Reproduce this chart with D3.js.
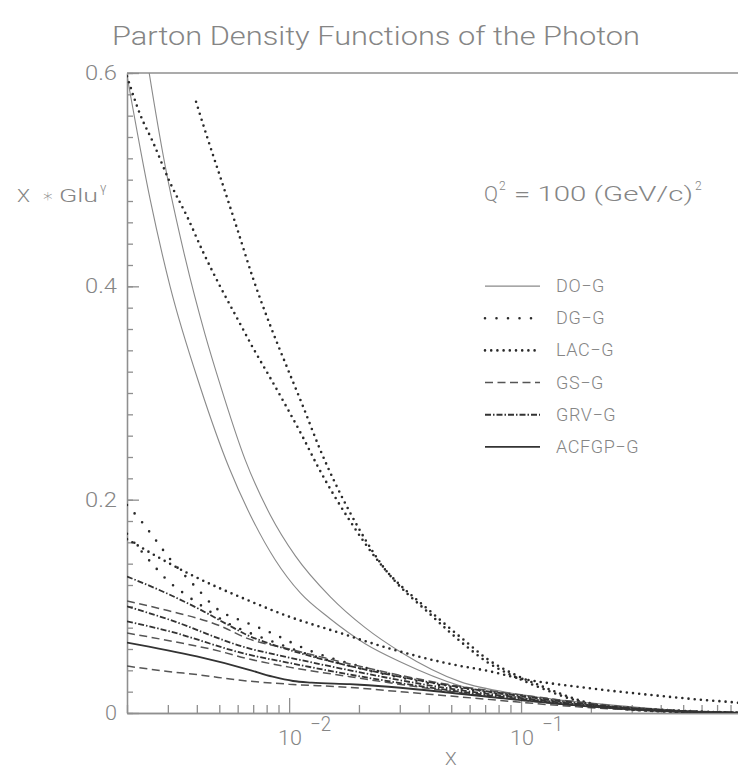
<!DOCTYPE html>
<html><head><meta charset="utf-8">
<script src="https://cdn.jsdelivr.net/npm/d3@7"></script>
<style>
html,body{margin:0;padding:0;background:#fff;}
text{font-family:Roboto,"DejaVu Sans",sans-serif;font-weight:300;fill:#858585;}
</style></head><body>
<svg id="chart" width="738" height="770"></svg>
<script>
// ---------- data (x, x*G(x)) ----------
const DO_G_1 = [[0.002,0.5975],[0.002518,0.4812],[0.003069,0.3997],[0.004134,0.3059],[0.005511,0.2299],[0.006792,0.1859],[0.008703,0.1437],[0.01115,0.1128],[0.01502,0.0884],[0.02127,0.0650],[0.03009,0.0481],[0.05458,0.0256],[0.1,0.0144],[0.301,0.0050],[0.55,0.0015],[1.0,0]];
const DO_G_2 = [[0.0023,0.649],[0.002492,0.6003],[0.00292,0.5131],[0.003561,0.4268],[0.004343,0.3547],[0.005042,0.3078],[0.006461,0.2375],[0.008281,0.1859],[0.01062,0.1475],[0.01502,0.1091],[0.02127,0.0800],[0.03009,0.0575],[0.05458,0.0294],[0.1,0.0172],[0.301,0.0059],[0.55,0.0018],[1.0,0]];
const DG_G_1 = [[0.002,0.195],[0.0023,0.180],[0.0026,0.165],[0.003,0.147],[0.004,0.117],[0.0048,0.099],[0.0065,0.085],[0.008,0.077],[0.0121,0.059],[0.02,0.044],[0.04,0.029],[0.1,0.016],[0.2,0.008],[0.4,0.003],[0.8,0.0005],[1.0,0]];
const DG_G_2 = [[0.002,0.168],[0.00259,0.139],[0.003,0.124],[0.00363,0.110],[0.00443,0.097],[0.00535,0.085],[0.0066,0.076],[0.008,0.069],[0.0121,0.055],[0.02,0.042],[0.04,0.028],[0.1,0.015],[0.2,0.007],[0.4,0.003],[0.8,0.0005],[1.0,0]];
const LAC_G_1 = [[0.002,0.597],[0.00228,0.561],[0.00259,0.535],[0.00307,0.497],[0.00364,0.465],[0.00426,0.432],[0.00504,0.400],[0.00597,0.370],[0.0070,0.342],[0.0083,0.314],[0.0098,0.286],[0.0115,0.258],[0.0133,0.231],[0.0183,0.180],[0.0247,0.140],[0.0418,0.093],[0.0585,0.066],[0.0711,0.051],[0.0961,0.035],[0.12,0.026],[0.185,0.011],[0.27,0.004],[0.5,0.001],[1.0,0]];
const LAC_G_2 = [[0.002,0.163],[0.00374,0.130],[0.00659,0.106],[0.0101,0.090],[0.0166,0.075],[0.0223,0.066],[0.0494,0.046],[0.0735,0.039],[0.0961,0.033],[0.185,0.024],[0.36,0.017],[0.59,0.0125],[0.853,0.0097],[1.0,0.008]];
const LAC_G_3 = [[0.00397,0.573],[0.00443,0.540],[0.00504,0.503],[0.00597,0.454],[0.0070,0.407],[0.0083,0.363],[0.0098,0.324],[0.0115,0.287],[0.0136,0.247],[0.0183,0.188],[0.0247,0.141],[0.0418,0.090],[0.0585,0.062],[0.0711,0.048],[0.0961,0.033],[0.12,0.024],[0.185,0.010],[0.27,0.004],[0.5,0.001],[1.0,0]];
const GS_G_1 = [[0.002,0.105],[0.003,0.096],[0.005,0.082],[0.0066,0.070],[0.01,0.060],[0.0183,0.046],[0.04,0.030],[0.1,0.017],[0.2,0.009],[0.4,0.003],[0.7,0.0007],[1.0,0]];
const GS_G_2 = [[0.002,0.075],[0.003,0.068],[0.005,0.058],[0.0066,0.051],[0.01,0.043],[0.0183,0.034],[0.04,0.023],[0.1,0.012],[0.2,0.006],[0.4,0.002],[1.0,0]];
const GS_G_3 = [[0.002,0.044],[0.003,0.039],[0.004,0.036],[0.0066,0.030],[0.01,0.027],[0.0183,0.024],[0.03,0.020],[0.07,0.013],[0.1,0.010],[0.2,0.005],[0.4,0.002],[1.0,0]];
const GRV_G_1 = [[0.002,0.128],[0.00298,0.112],[0.00413,0.097],[0.00574,0.080],[0.0066,0.073],[0.008,0.066],[0.0112,0.056],[0.0183,0.044],[0.04,0.029],[0.1,0.016],[0.2,0.008],[0.4,0.003],[1.0,0]];
const GRV_G_2 = [[0.002,0.100],[0.003,0.088],[0.0066,0.061],[0.01,0.052],[0.0183,0.040],[0.04,0.026],[0.1,0.014],[0.2,0.007],[0.4,0.0025],[1.0,0]];
const GRV_G_3 = [[0.002,0.086],[0.003,0.077],[0.0066,0.055],[0.01,0.047],[0.0183,0.036],[0.04,0.024],[0.1,0.013],[0.2,0.006],[0.4,0.002],[1.0,0]];
const ACFGP_G = [[0.002,0.066],[0.004,0.053],[0.0066,0.041],[0.0085,0.034],[0.0104,0.030],[0.0125,0.0285],[0.0183,0.027],[0.0202,0.0265],[0.0735,0.015],[0.1,0.012],[0.2,0.006],[0.4,0.002],[1.0,0]];

const legendNames = ["DO\u2212G","DG\u2212G","LAC\u2212G","GS\u2212G","GRV\u2212G","ACFGP\u2212G"];
const yMajorTicks = [0, 0.2, 0.4, 0.6];
const xMajorTicks = [0.01, 0.1];
const xMajorExp = ["\u22122", "\u22121"];

// ---------- styles ----------
const styles = {
  "DO\u2212G":   {stroke:"#8a8a8a", width:1.1, dash:null, cap:"butt"},
  "DG\u2212G":   {stroke:"#2a2a2a", width:2.6, dash:"0 11.5", cap:"round"},
  "LAC\u2212G":  {stroke:"#2a2a2a", width:2.6, dash:"0 6.2", cap:"round"},
  "GS\u2212G":   {stroke:"#555", width:1.5, dash:"8 4.5", cap:"butt"},
  "GRV\u2212G":  {stroke:"#333", width:1.8, dash:"6 2 1.5 2", cap:"butt"},
  "ACFGP\u2212G":{stroke:"#333", width:1.8, dash:null, cap:"butt"}
};
const series = [
  {name:"DO\u2212G", data:DO_G_1},{name:"DO\u2212G", data:DO_G_2},
  {name:"DG\u2212G", data:DG_G_1},{name:"DG\u2212G", data:DG_G_2},
  {name:"LAC\u2212G", data:LAC_G_1},{name:"LAC\u2212G", data:LAC_G_2},{name:"LAC\u2212G", data:LAC_G_3},
  {name:"GS\u2212G", data:GS_G_1},{name:"GS\u2212G", data:GS_G_2},{name:"GS\u2212G", data:GS_G_3},
  {name:"GRV\u2212G", data:GRV_G_1},{name:"GRV\u2212G", data:GRV_G_2},{name:"GRV\u2212G", data:GRV_G_3},
  {name:"ACFGP\u2212G", data:ACFGP_G}
];

const svg = d3.select("#chart");
const L = 127, T = 73, B = 713, R = 753;
const x = d3.scaleLog().domain([0.002, 1]).range([L, R]);
const y = d3.scaleLinear().domain([0, 0.6]).range([B, T]);
const axisColor = "#8f8f8f";

svg.append("rect").attr("width",738).attr("height",770).attr("fill","#fff");

// Title
svg.append("text").attr("x",112).attr("y",45).attr("font-size",25)
  .attr("textLength",528).attr("lengthAdjust","spacingAndGlyphs")
  .text("Parton Density Functions of the Photon");

// clip
svg.append("clipPath").attr("id","plotclip").append("rect")
  .attr("x",L).attr("y",T).attr("width",R-L).attr("height",B-T);

// frame: top line
svg.append("line").attr("x1",L).attr("x2",R).attr("y1",T).attr("y2",T)
  .attr("stroke",axisColor).attr("stroke-width",1.3);

// Y axis
const yMinor = d3.range(0, 0.6001, 0.02).map(v=>+v.toFixed(2));
const gyMinor = svg.append("g").attr("transform",`translate(${L},0)`)
  .call(d3.axisLeft(y).tickValues(yMinor).tickSizeInner(-6).tickSizeOuter(0).tickFormat(""));
const gy = svg.append("g").attr("transform",`translate(${L},0)`)
  .call(d3.axisLeft(y).tickValues(yMajorTicks).tickSizeInner(-12).tickSizeOuter(0).tickPadding(10)
    .tickFormat(d=> d===0 ? "0" : d3.format(".1f")(d)));
[gyMinor, gy].forEach(g=>{
  g.selectAll("path,line").attr("stroke",axisColor).attr("stroke-width",1.3);
});
gy.selectAll("text").attr("font-size",20).attr("fill","#858585")
  .attr("textLength",d=> d===0 ? 12 : 32).attr("lengthAdjust","spacingAndGlyphs")
  .style("font-family","Roboto, 'DejaVu Sans', sans-serif").style("font-weight",300);

// X axis
const xMinor = [];
[0.001,0.01,0.1].forEach(dec=>{ for(let k=2;k<=9;k++){ const v=k*dec; if(v>=0.002 && v<1) xMinor.push(+v.toPrecision(3)); } });
const gxMinor = svg.append("g").attr("transform",`translate(0,${B})`)
  .call(d3.axisBottom(x).tickValues(xMinor).tickSizeInner(-8).tickSizeOuter(0).tickFormat(""));
const gx = svg.append("g").attr("transform",`translate(0,${B})`)
  .call(d3.axisBottom(x).tickValues(xMajorTicks).tickSizeInner(-15).tickSizeOuter(0).tickFormat(""));
[gxMinor, gx].forEach(g=>{
  g.selectAll("path,line").attr("stroke",axisColor).attr("stroke-width",1.3);
});
// decade labels 10^-n
xMajorTicks.forEach((v,i)=>{
  svg.append("text").attr("x",x(v)-11).attr("y",745).attr("font-size",20)
    .attr("textLength",24).attr("lengthAdjust","spacingAndGlyphs").text("10");
  svg.append("text").attr("x",x(v)+21).attr("y",731).attr("font-size",20)
    .attr("textLength",21).attr("lengthAdjust","spacingAndGlyphs").text(xMajorExp[i]);
});

// axis titles
svg.append("text").attr("x",445).attr("y",765).attr("font-size",19).text("X");
svg.append("text").attr("x",17).attr("y",202).attr("font-size",19)
  .attr("textLength",13).attr("lengthAdjust","spacingAndGlyphs").text("X");
svg.append("text").attr("x",42).attr("y",202).attr("font-size",19).text("\u2217");
svg.append("text").attr("x",59).attr("y",202).attr("font-size",19)
  .attr("textLength",39).attr("lengthAdjust","spacingAndGlyphs").text("Glu");
svg.append("text").attr("x",100).attr("y",192).attr("font-size",13).text("\u03B3");

// Q^2 annotation
svg.append("text").attr("x",484).attr("y",201).attr("font-size",20)
  .attr("textLength",14).attr("lengthAdjust","spacingAndGlyphs").text("Q");
svg.append("text").attr("x",499).attr("y",190).attr("font-size",12).text("2");
svg.append("text").attr("x",514).attr("y",201).attr("font-size",20)
  .attr("textLength",179).attr("lengthAdjust","spacingAndGlyphs").text("= 100 (GeV/c)");
svg.append("text").attr("x",695).attr("y",190).attr("font-size",12).text("2");

// curves
const line = d3.line().x(d=>x(d[0])).y(d=>y(d[1])).curve(d3.curveMonotoneX);
const gc = svg.append("g").attr("clip-path","url(#plotclip)");
series.forEach(s=>{
  const st = styles[s.name];
  gc.append("path").datum(s.data).attr("d",line).attr("fill","none")
    .attr("stroke",st.stroke).attr("stroke-width",st.width)
    .attr("stroke-dasharray",st.dash).attr("stroke-linecap",st.cap);
});

// legend
const legY = d3.scaleBand().domain(legendNames).range([270, 463]);
const lg = svg.append("g");
legendNames.forEach(n=>{
  const st = styles[n];
  const yy = legY(n) + legY.bandwidth()/2;
  lg.append("line").attr("x1",485).attr("x2",540).attr("y1",yy).attr("y2",yy)
    .attr("stroke",st.stroke).attr("stroke-width",st.width)
    .attr("stroke-dasharray",st.dash).attr("stroke-linecap",st.cap);
  lg.append("text").attr("x",556).attr("y",yy+6).attr("font-size",18)
    .style("letter-spacing","0.6px").text(n);
});
</script>
</body></html>
